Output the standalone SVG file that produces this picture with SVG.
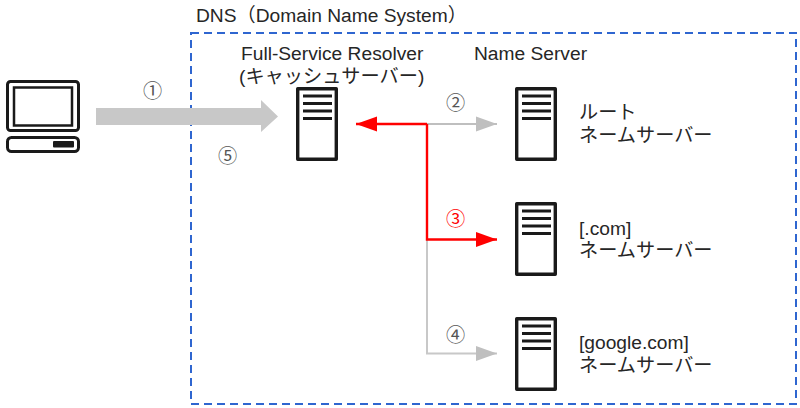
<svg xmlns="http://www.w3.org/2000/svg" width="800" height="408" viewBox="0 0 800 408">
<style>
text{font-family:"Liberation Sans","Noto Sans CJK JP",sans-serif;font-size:19.2px;fill:#262626}
.n{font-size:19.2px;fill:#555}
.srv{fill:#fff;stroke:#1a1a1a;stroke-width:3.4;stroke-linejoin:round}
.bar{stroke:#1a1a1a;stroke-width:2.8}
</style>
<defs>
<g id="server">
<rect class="srv" x="1.7" y="1.7" width="38.6" height="70.6"/>
<path class="bar" d="M7 9H36M7 16.500H36M7 24H36M7 31.500H36"/>
</g>
<marker id="g" markerUnits="userSpaceOnUse" markerWidth="21" markerHeight="16" refX="21" refY="8" orient="auto"><path d="M0 0.500L21 8L0 15.500Z" fill="#bfbfbf"/></marker>
<marker id="r" markerUnits="userSpaceOnUse" markerWidth="21" markerHeight="16" refX="21" refY="8" orient="auto"><path d="M0 0.500L21 8L0 15.500Z" fill="#f00"/></marker>
</defs>
<rect id="dns-boundary" x="191" y="33" width="605" height="371" fill="none" stroke="#2f66d0" stroke-width="2" stroke-dasharray="8 5"/>
<g id="dns-label"><text x="196" y="22">DNS（Domain Name System）</text></g>
<g id="pc">
<rect x="7.500" y="81.500" width="71" height="49" rx="3" fill="#fff" stroke="#1a1a1a" stroke-width="3"/>
<rect x="14" y="87.500" width="58" height="38" fill="#fff" stroke="#1a1a1a" stroke-width="2.500"/>
<rect x="7.500" y="137.500" width="71" height="14" rx="4" fill="#fff" stroke="#1a1a1a" stroke-width="3"/>
<rect x="53" y="141" width="21" height="6.500" rx="1" fill="#1a1a1a"/>
</g>
<g id="connectors" fill="none">
<path d="M96 108H261V100L278 116.500L261 132V125H96Z" fill="#c8c8c8"/>
<path d="M427 124H497" stroke="#bfbfbf" stroke-width="2" marker-end="url(#g)"/>
<path d="M427 240V353.500H497" stroke="#c8c8c8" stroke-width="2" marker-end="url(#g)"/>
<path d="M427 124V239.500H497" stroke="#f00" stroke-width="2.400" marker-end="url(#r)"/>
<path d="M427 124H356" stroke="#f00" stroke-width="2.400" marker-end="url(#r)"/>
</g>
<g id="resolver"><use href="#server" transform="translate(296 87)"/>
<text x="241" y="60">Full-Service Resolver</text><text x="239" y="83">(キャッシュサーバー)</text></g>
<g id="ns-heading"><text x="474" y="60">Name Server</text></g>
<g id="root"><use href="#server" transform="translate(515 87)"/>
<text x="579" y="119">ルート</text><text x="579" y="142">ネームサーバー</text></g>
<g id="com"><use href="#server" transform="translate(515 202)"/>
<text x="579" y="235">[.com]</text><text x="579" y="257">ネームサーバー</text></g>
<g id="google"><use href="#server" transform="translate(515 317)"/>
<text x="579" y="349">[google.com]</text><text x="579" y="372">ネームサーバー</text></g>
<g id="steps">
<text class="n" x="143" y="98">①</text>
<text class="n" x="218" y="163">⑤</text>
<text class="n" x="446" y="110">②</text>
<text class="n" x="446" y="226" style="fill:#f00">③</text>
<text class="n" x="446" y="342">④</text>
</g>
</svg>
